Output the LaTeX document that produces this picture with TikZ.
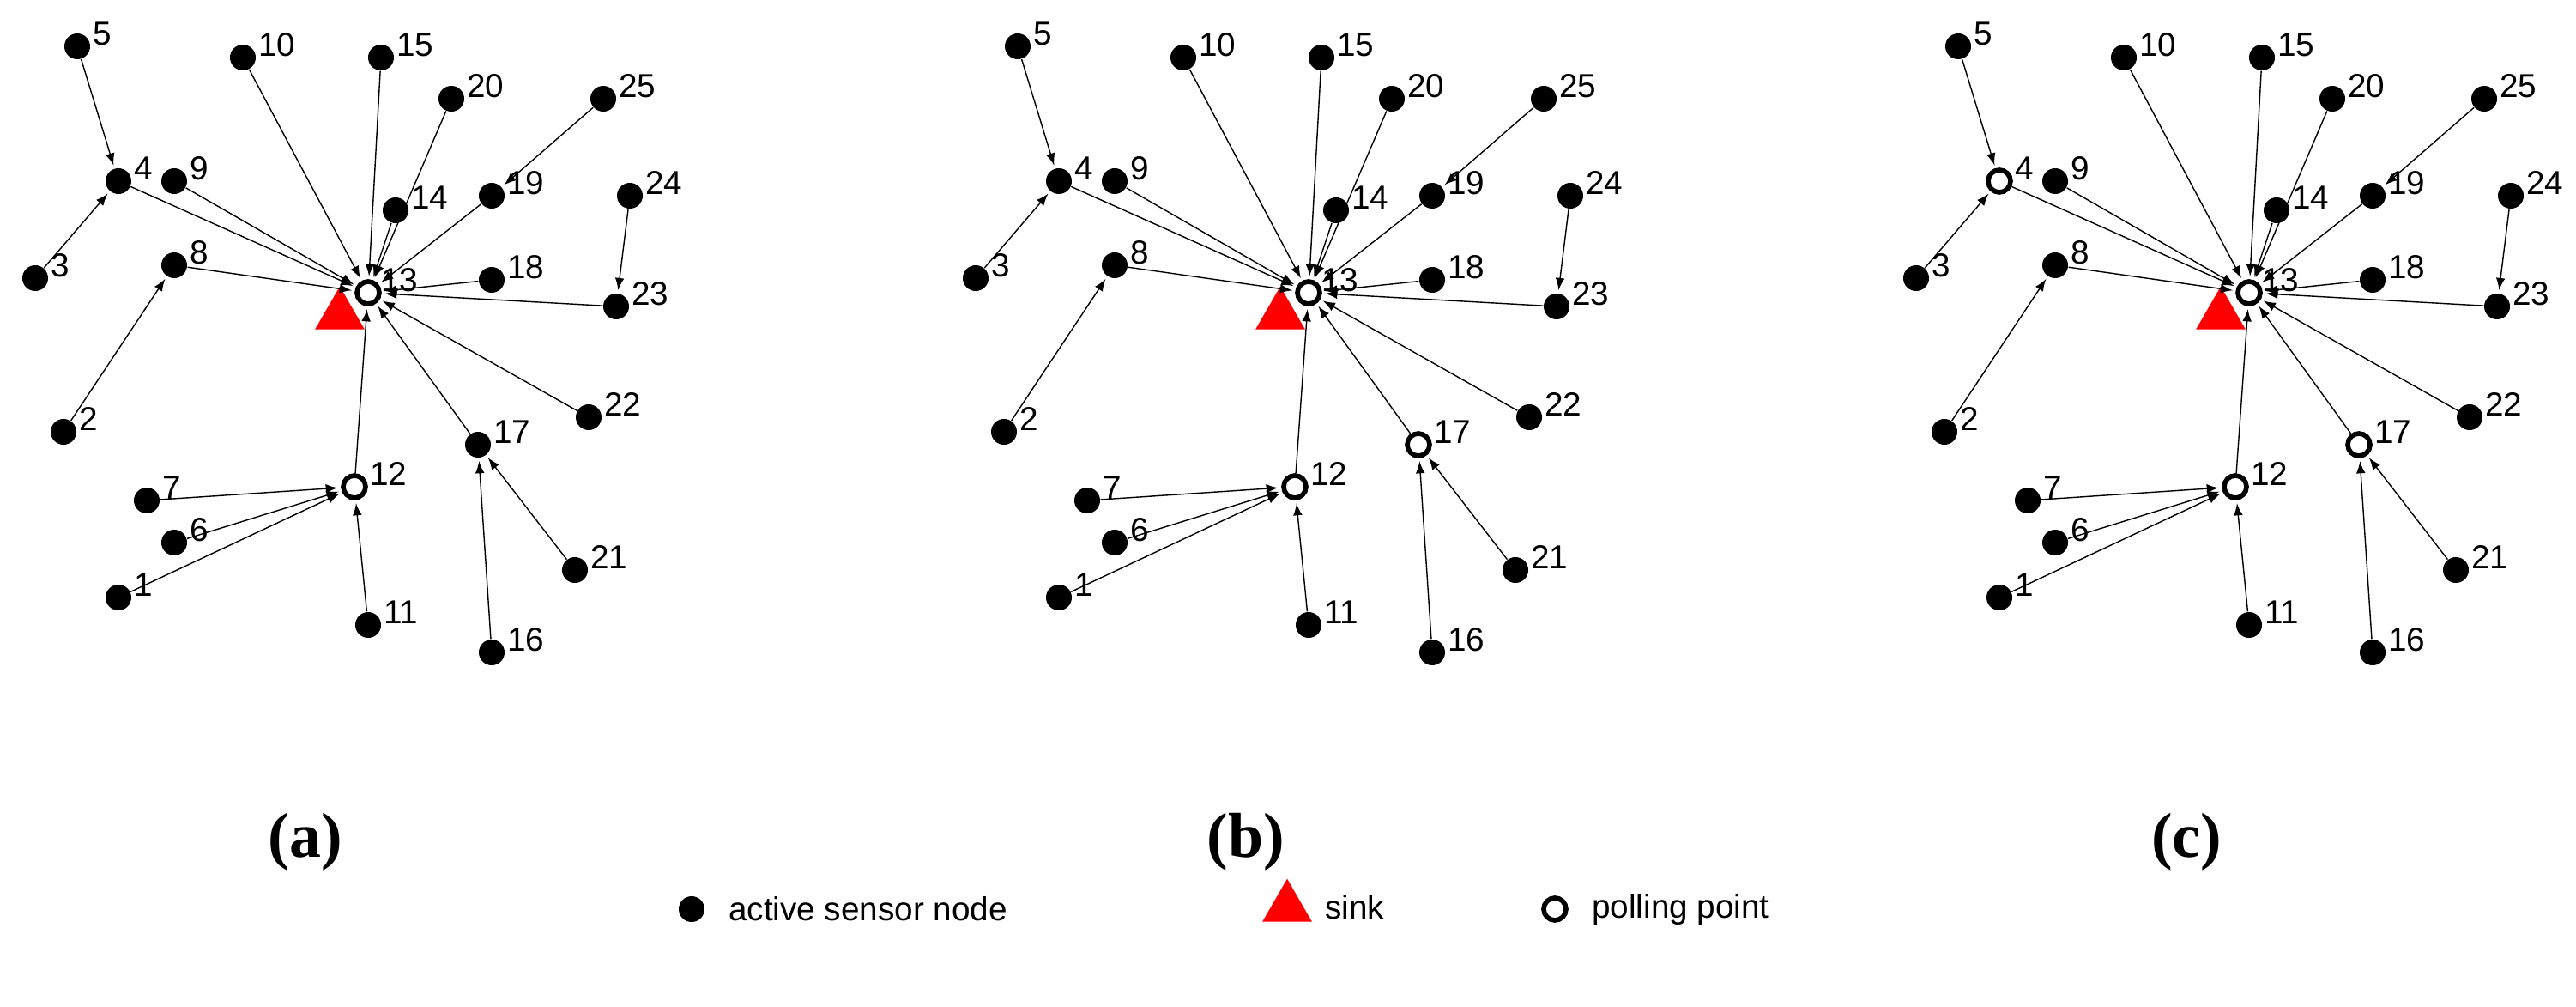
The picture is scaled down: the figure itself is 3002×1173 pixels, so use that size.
\documentclass[tikz,border=0pt]{standalone}
\usepackage{fontspec}
\setmainfont{Liberation Sans}
\newfontfamily\capfont{Liberation Serif}
\usetikzlibrary{positioning,arrows,shapes.geometric}

\begin{document}
\begin{tikzpicture}[x=0.01cm, y=-0.01cm,
sensor/.style={circle, fill=black, minimum size=0.3cm, inner sep=0cm},
poll/.style={circle, draw=black, fill=white, line width=1.6pt, minimum size=0.26cm, inner sep=0cm},
sink/.style={isosceles triangle, isosceles triangle apex angle=60, shape border rotate=90, fill=red, minimum height=0.5cm, inner sep=0cm},
lab/.style={font=\fontsize{11}{13}\selectfont, inner sep=0.5pt, yshift=0.15cm},
post/.style={-latex, thin, shorten >=1pt},
caption/.style={font=\capfont\bfseries\fontsize{21}{25}\selectfont},
legend/.style={font=\fontsize{11}{13}\selectfont, anchor=west}]

\useasboundingbox (0,0) rectangle (3002,1173);

\foreach \p/\dx/\sfour/\sseventeen in {a/0/sensor/sensor, b/1096/sensor/poll, c/2192/poll/poll} {
\begin{scope}[xshift=\dx*0.01cm]
	\node[sink] (\p s) at (396,367) {};
	\foreach \n/\x/\y in {1/138/696, 2/74/503, 3/41/324, 5/90/54, 6/203/632, 7/171/583,
		8/203/309, 9/203/211, 10/283/67, 11/429/728, 14/461/245, 15/444/67, 16/573/760,
		18/573/326, 19/573/228, 20/526/115, 21/670/664, 22/686/486, 23/718/357,
		24/734/228, 25/703/115}
		\node[sensor, label={[lab]right:\n}] (\p\n) at (\x,\y) {};
	\node[\sfour, label={[lab]right:4}] (\p4) at (138,211) {};
	\node[\sseventeen, label={[lab]right:17}] (\p17) at (557,518) {};
	\node[poll] (\p13) at (429,341) {};
	\node[poll, label={[lab]right:12}] (\p12) at (413,567) {};

	\foreach \a/\b in {5/4, 3/4, 4/13, 9/13, 10/13, 15/13, 20/13, 14/13, 25/19, 19/13,
		24/23, 23/13, 18/13, 8/13, 2/8, 22/13, 17/13, 21/17, 16/17, 12/13, 7/12, 6/12,
		1/12, 11/12}
		\draw[post] (\p\a) -- (\p\b);
	\node[lab, anchor=west, xshift=-0.03cm] (\p13l) at (\p13.east) {13};

	\node[caption] (\p cap) at (356,981) {(\p)};
\end{scope}
}

% legend
\node[sensor] (ksensor) at (806,1059) {};
\node[legend, right=0.15cm of ksensor] (tsensor) {active sensor node};
\node[sink] (ksink) at (1500,1057) {};
\node[legend, right=0.12cm of ksink] (tsink) {sink};
\node[poll] (kpoll) at (1812,1059) {};
\node[legend, right=0.15cm of kpoll] (tpoll) {polling point};
\end{tikzpicture}
\end{document}
